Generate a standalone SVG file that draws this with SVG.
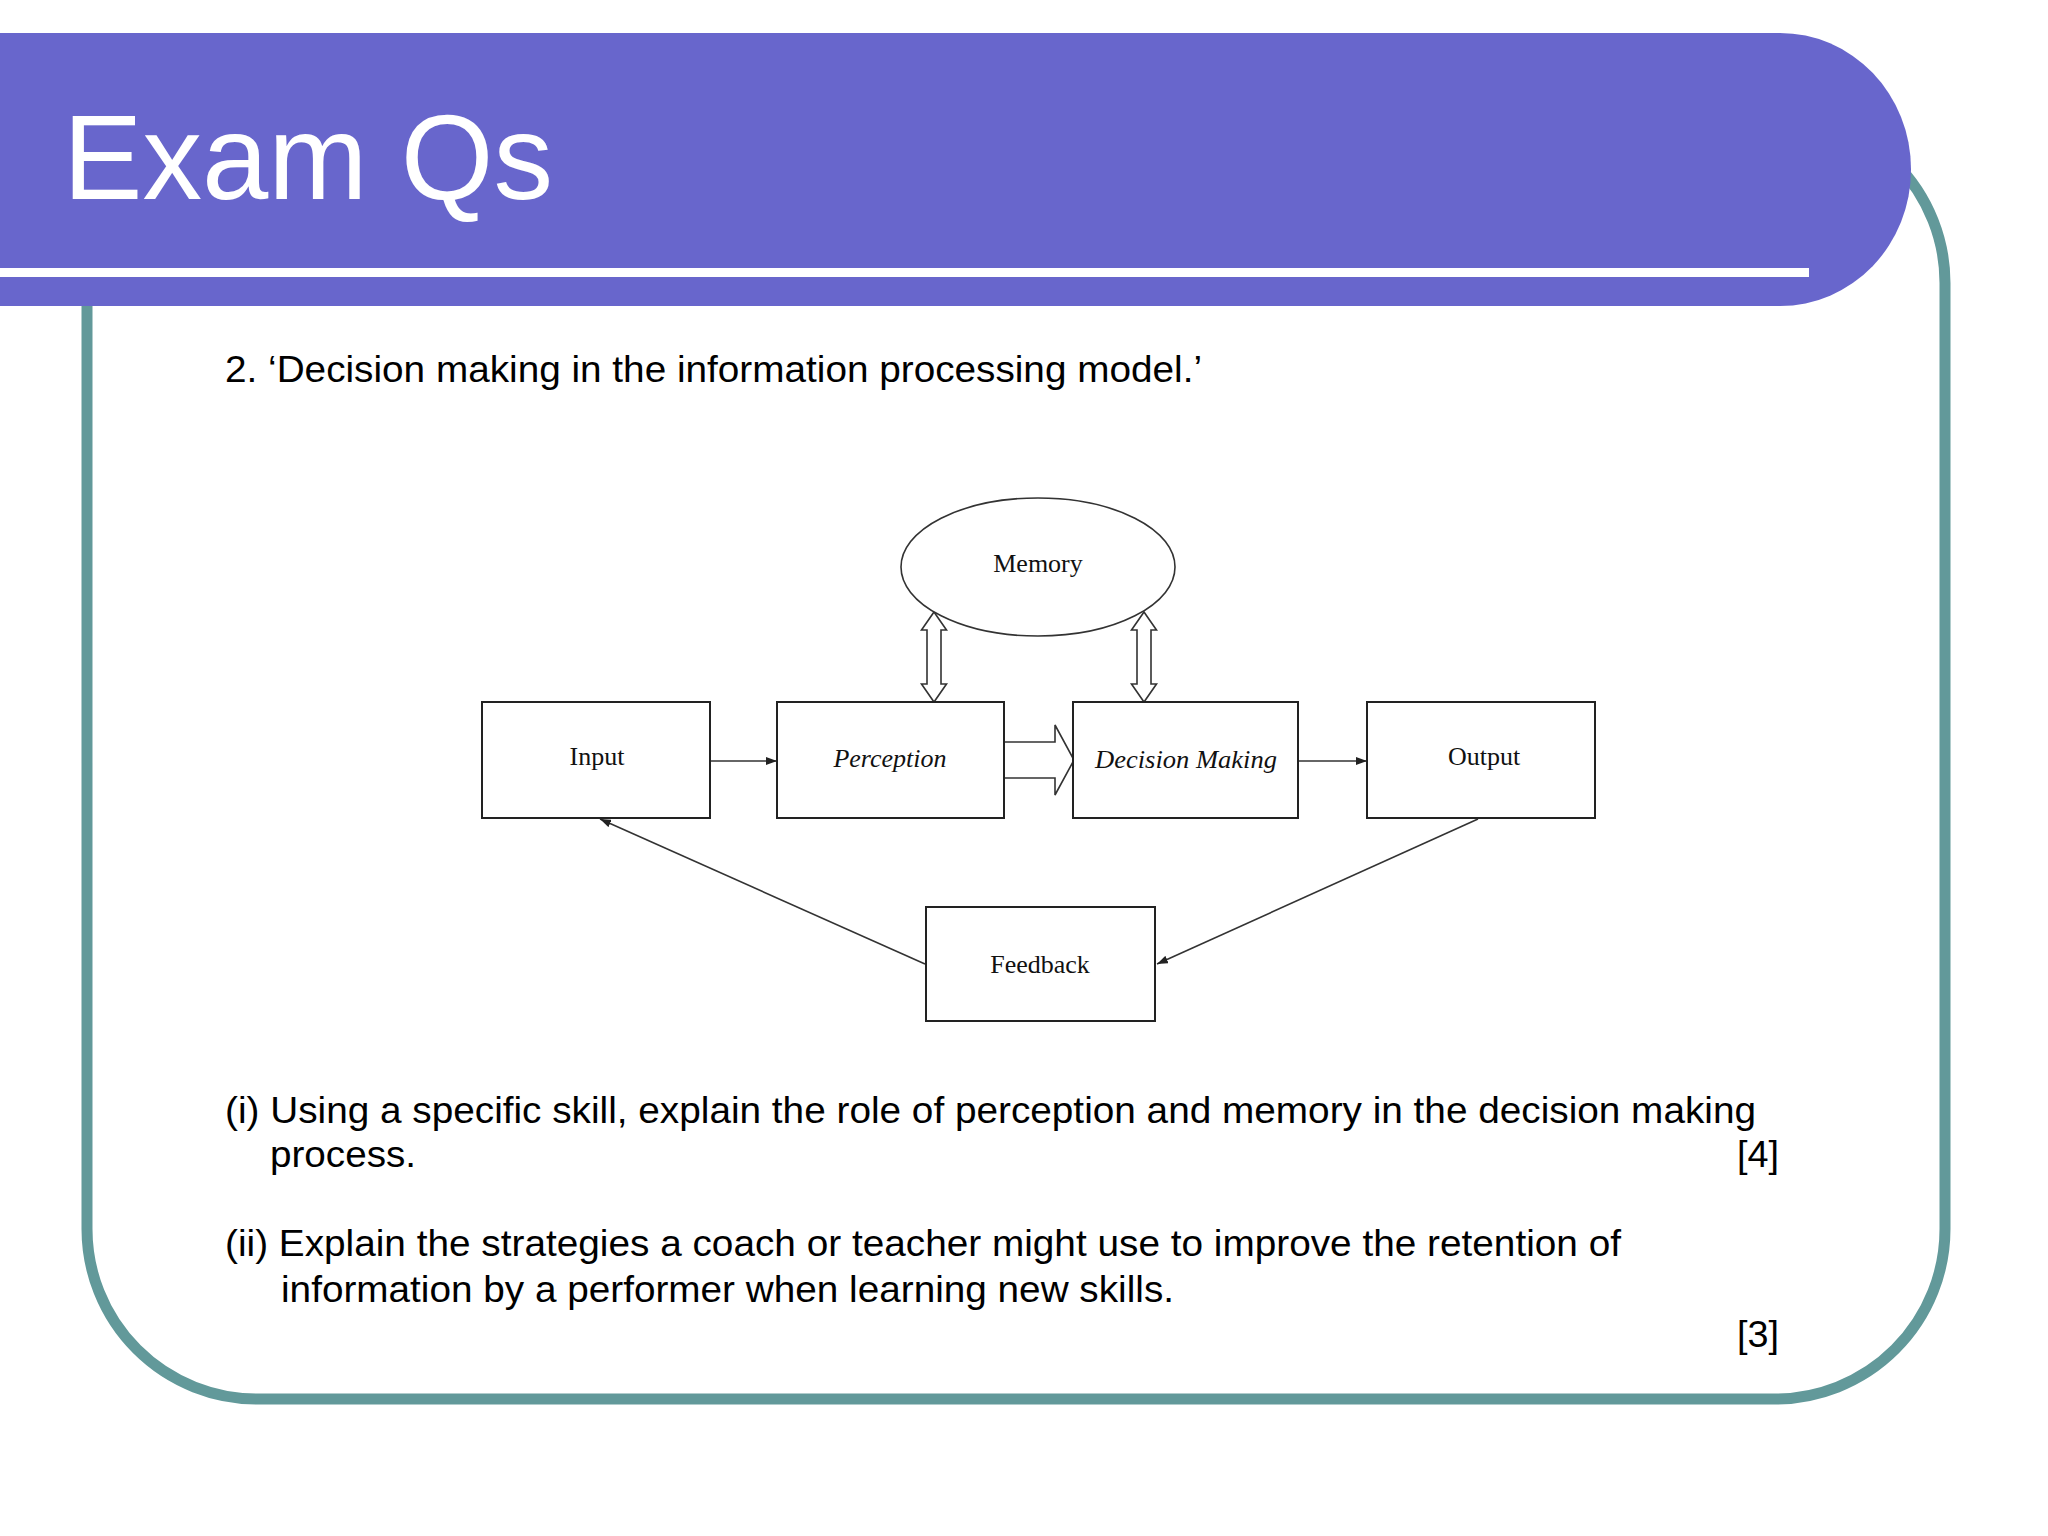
<svg xmlns="http://www.w3.org/2000/svg" width="2048" height="1536" viewBox="0 0 2048 1536">
<style>
.q{font-family:"Liberation Sans",Arial,sans-serif;font-size:36px;fill:#000}
.lbl{font-family:"Liberation Serif","Times New Roman",serif;font-size:26px;fill:#111;text-anchor:middle}
.it{font-style:italic}
.box{fill:#fff;stroke:#222;stroke-width:2}
.ln{fill:none;stroke:#333;stroke-width:1.6}
.hollow{fill:#fff;stroke:#333;stroke-width:1.6;stroke-linejoin:miter}
</style>
<defs>
<marker id="ah" markerUnits="userSpaceOnUse" markerWidth="12" markerHeight="8" refX="11" refY="4" orient="auto">
<path d="M0,0 L11,4 L0,8 z" fill="#222"/>
</marker>
</defs>
<rect x="0" y="0" width="2048" height="1536" fill="#fff"/>
<rect x="87" y="113" width="1858" height="1286" rx="170" ry="170" fill="none" stroke="#62999a" stroke-width="11"/>
<rect x="-200" y="33" width="2111" height="273" rx="131" ry="136" fill="#6866cc"/>
<rect x="0" y="268" width="1809" height="9" fill="#fff"/>
<text x="63" y="199" font-family="'Liberation Sans',Arial,sans-serif" font-size="120" fill="#fff" textLength="490" lengthAdjust="spacingAndGlyphs">Exam Qs</text>

<text class="q" x="225" y="382" textLength="977" lengthAdjust="spacingAndGlyphs">2. ‘Decision making in the information processing model.’</text>

<g id="connectors">
<line class="ln" x1="710" y1="761" x2="777" y2="761" marker-end="url(#ah)"/>
<line class="ln" x1="1298" y1="761" x2="1367" y2="761" marker-end="url(#ah)"/>
<line class="ln" x1="925" y1="964" x2="600" y2="819" marker-end="url(#ah)"/>
<line class="ln" x1="1478" y1="819" x2="1157" y2="964" marker-end="url(#ah)"/>
<path class="hollow" d="M934,612 L946.5,630 L941,630 L941,684 L946.5,684 L934,702 L921.5,684 L927,684 L927,630 L921.5,630 Z"/>
<path class="hollow" d="M1144,612 L1156.5,630 L1151,630 L1151,684 L1156.5,684 L1144,702 L1131.5,684 L1137,684 L1137,630 L1131.5,630 Z"/>
<path class="hollow" d="M1004,742 H1055 V725 L1074,760 L1055,795 V778 H1004" stroke="#222" stroke-width="2"/>
</g>

<g id="memory">
<ellipse cx="1038" cy="567" rx="137" ry="69" fill="#fff" stroke="#333" stroke-width="1.6"/>
<text class="lbl" x="1038" y="572">Memory</text>
</g>
<g id="input">
<rect class="box" x="482" y="702" width="228" height="116"/>
<text class="lbl" x="597" y="765">Input</text>
</g>
<g id="perception">
<rect class="box" x="777" y="702" width="227" height="116"/>
<text class="lbl it" x="890" y="767">Perception</text>
</g>
<g id="decision">
<rect class="box" x="1073" y="702" width="225" height="116"/>
<text class="lbl it" x="1186" y="768" textLength="182" lengthAdjust="spacingAndGlyphs">Decision Making</text>
</g>
<g id="output">
<rect class="box" x="1367" y="702" width="228" height="116"/>
<text class="lbl" x="1484" y="765">Output</text>
</g>
<g id="feedback">
<rect class="box" x="926" y="907" width="229" height="114"/>
<text class="lbl" x="1040" y="973">Feedback</text>
</g>

<text class="q" x="225" y="1123" textLength="1531" lengthAdjust="spacingAndGlyphs">(i) Using a specific skill, explain the role of perception and memory in the decision making</text>
<text class="q" x="270" y="1167" textLength="146" lengthAdjust="spacingAndGlyphs">process.</text>
<text class="q" x="1737" y="1167" textLength="42" lengthAdjust="spacingAndGlyphs">[4]</text>
<text class="q" x="225" y="1256" textLength="1396" lengthAdjust="spacingAndGlyphs">(ii) Explain the strategies a coach or teacher might use to improve the retention of</text>
<text class="q" x="281" y="1302" textLength="893" lengthAdjust="spacingAndGlyphs">information by a performer when learning new skills.</text>
<text class="q" x="1737" y="1347" textLength="42" lengthAdjust="spacingAndGlyphs">[3]</text>
</svg>
